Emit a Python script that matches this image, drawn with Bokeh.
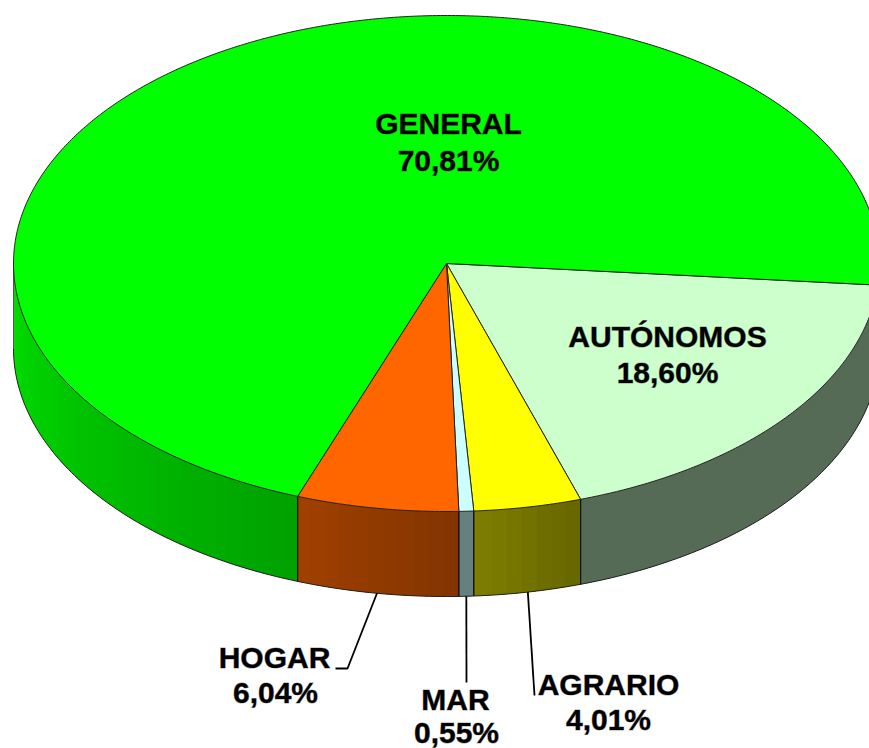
import numpy as np
from bokeh.plotting import figure
from bokeh.models import Range1d
from bokeh.core.properties import value
from bokeh.embed import file_html
from bokeh.resources import INLINE

# ---- data, in drawing order (clockwise on screen from the start angle)
categories = ["AUTÓNOMOS", "AGRARIO", "MAR", "HOGAR", "GENERAL"]
shares = [18.60, 4.01, 0.55, 6.04, 70.81]
share_labels = ["18,60%", "4,01%", "0,55%", "6,04%", "70,81%"]
colors = ["#CCFFCC", "#FFFF00", "#CCFFFF", "#FF6600", "#00FF00"]

# ---- layout of the tilted disc, in page pixels
CX, CY, RX, RY, DEPTH = 446.0, 263.0, 433.0, 248.0, 85.0
START_DEG = 5.0
# side-wall shading as a function of the angle round the rim
SHADE_T = [0, 71.9, 72, 87, 110, 180]
SHADE_V = [0.42, 0.42, 0.40, 0.50, 0.63, 0.88]
FONT_SIZE = "30px"
LABEL_POS = {
    "GENERAL": (448, 123, 448, 160),
    "AUTÓNOMOS": (667, 336, 667, 372),
    "HOGAR": (274, 657, 275, 692),
    "MAR": (455, 699, 456, 732),
    "AGRARIO": (608, 684, 608, 719),
}
LEADER_ENDS = {
    "HOGAR": [(347, 668), (335, 668)],
    "MAR": [(466, 682)],
    "AGRARIO": [(534, 695)],
}


def rim(t_deg, dy=0.0):
    t = np.radians(t_deg)
    return CX + RX * np.cos(t), CY + RY * np.sin(t) + dy


def shaded(hex_color, t):
    f = float(np.interp(t, SHADE_T, SHADE_V))
    rgb = [int(hex_color[i:i + 2], 16) for i in (1, 3, 5)]
    return "#%02x%02x%02x" % tuple(int(round(c * f)) for c in rgb)


total = sum(shares)
spans = []
a = START_DEG
for s in shares:
    b = a + s / total * 360.0
    spans.append((a, b))
    a = b

p = figure(width=869, height=748, output_backend="svg", toolbar_location=None,
           x_range=Range1d(0, 869), y_range=Range1d(748, 0),
           min_border=0, outline_line_color=None, background_fill_color="white",
           border_fill_color="white")
p.axis.visible = False
p.grid.visible = False

# side walls: a solid underlay per slice, then overlapping strips shaded by angle
ux, uy, uc = [], [], []
sx, sy, sc = [], [], []
wall_x, wall_y = [], []
for (a, b), col in zip(spans, colors):
    for lo, hi in ((a, b), (a - 360, b - 360)):
        lo2, hi2 = max(lo, 0.0), min(hi, 180.0)
        if hi2 <= lo2:
            continue
        ts = np.linspace(lo2, hi2, max(3, int(hi2 - lo2) + 2))
        x, y = rim(ts)
        ux.append(np.r_[x, x[::-1]].tolist())
        uy.append(np.r_[y, (y + DEPTH)[::-1]].tolist())
        uc.append(shaded(col, (lo2 + hi2) / 2))
        edges = np.arange(lo2, hi2, 2.0).tolist() + [hi2]
        for t0, t1 in zip(edges[:-1], edges[1:]):
            ts = np.linspace(t0, min(t1 + 1.0, hi2), 4)
            x, y = rim(ts)
            sx.append(np.r_[x, x[::-1]].tolist())
            sy.append(np.r_[y, (y + DEPTH)[::-1]].tolist())
            sc.append(shaded(col, (t0 + t1) / 2))
        for t in (lo2, hi2):
            if 0 < t < 180:
                x0, y0 = rim(t)
                wall_x.append([x0, x0])
                wall_y.append([y0, y0 + DEPTH])

p.patches(ux, uy, fill_color=uc, line_color=None)
p.patches(sx, sy, fill_color=sc, line_color=None)

# lower outline of the walls and their left silhouette
ts = np.linspace(0, 180, 241)
bx, by = rim(ts, DEPTH)
p.line(np.r_[bx[0], bx], np.r_[by[0] - DEPTH, by], line_color="#222222", line_width=1)
lx, ly = rim(180.0)
p.line([lx, lx], [ly, ly + DEPTH], line_color="#555555", line_width=1)
p.multi_line(wall_x, wall_y, line_color="#111111", line_width=1)

# top face wedges
tx, ty = [], []
for a, b in spans:
    ts = np.linspace(a, b, max(3, int((b - a) * 2)))
    x, y = rim(ts)
    tx.append(np.r_[CX, x].tolist())
    ty.append(np.r_[CY, y].tolist())
p.patches(tx, ty, fill_color=colors, line_color="#222222", line_width=1)

# leader lines start at the middle of their slice's lower rim
lead_x, lead_y = [], []
for name, (a, b) in zip(categories, spans):
    if name in LEADER_ENDS:
        x0, y0 = rim((a + b) / 2, DEPTH)
        pts = [(x0, y0)] + LEADER_ENDS[name]
        lead_x.append([q[0] for q in pts])
        lead_y.append([q[1] for q in pts])
p.multi_line(lead_x, lead_y, line_color="black", line_width=1.8)

# labels
for name, lab in zip(categories, share_labels):
    x1, y1, x2, y2 = LABEL_POS[name]
    p.text([x1, x2], [y1, y2], text=[name, lab], text_font=value("Liberation Sans"),
           text_font_style="bold", text_font_size=FONT_SIZE, text_color="black",
           text_outline_color="rgba(0,0,0,0.4)",
           text_align="center", text_baseline="middle")

open("out.html", "w").write(file_html(p, INLINE))
